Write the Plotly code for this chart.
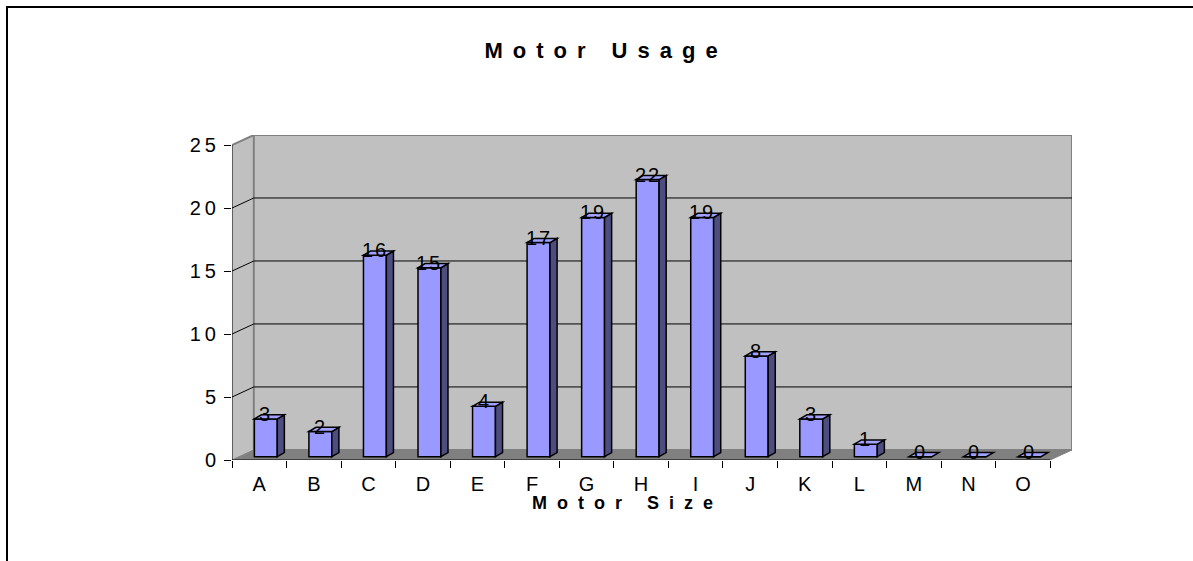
import plotly.graph_objects as go

# ---- data ----
categories = ["A", "B", "C", "D", "E", "F", "G", "H", "I", "J", "K", "L", "M", "N", "O"]
usage = [3, 2, 16, 15, 4, 17, 19, 22, 19, 8, 3, 1, 0, 0, 0]
y_ticks = [0, 5, 10, 15, 20, 25]
title_text = "Motor Usage"
x_title_text = "Motor Size"

# ---- style / geometry ----
W, H = 1193, 561
L, R, T, B = 232, 1072, 135, 460          # plot area in px
DX, DY = 0.40, 0.80                        # depth offset of back wall (data units)
BAR_OFF, BAR_W, BAR_BASE = -0.09, 0.42, 0.26
BDX, BDY = 0.13, 0.33                      # bar depth
FONT = "Liberation Sans"
FRONT, SIDE, TOP = "#9999FF", "#4D4D80", "#A3A3FF"
WALL, FLOOR, EDGE = "#C0C0C0", "#808080", "#808080"

def px_x(p):
    return (p - L) / (R - L)

def px_y(p):
    return (B - p) / (B - T)

def ls(text, spacing):
    return f'<span style="letter-spacing:{spacing}px">{text}</span>'

xmin, xmax = -0.5, len(categories) - 0.5
ymax = max(y_ticks)

shapes = []
# left side wall
shapes.append(dict(type="path", layer="below", xref="x", yref="y",
                   path=f"M{xmin},0 L{xmin+DX},{DY} L{xmin+DX},{ymax+DY} L{xmin},{ymax} Z",
                   fillcolor=WALL, line=dict(width=0)))
# back wall
shapes.append(dict(type="rect", layer="below", xref="x", yref="y",
                   x0=xmin + DX, x1=xmax + DX, y0=DY, y1=ymax + DY,
                   fillcolor=WALL, line=dict(color=EDGE, width=2)))
# floor
shapes.append(dict(type="path", layer="below", xref="x", yref="y",
                   path=f"M{xmin},0 L{xmax},0 L{xmax+DX},{DY} L{xmin+DX},{DY} Z",
                   fillcolor=FLOOR, line=dict(color=EDGE, width=1)))
# top edge of left wall
shapes.append(dict(type="line", layer="below", xref="x", yref="y",
                   x0=xmin, y0=ymax, x1=xmin + DX, y1=ymax + DY,
                   line=dict(color=EDGE, width=2)))
# gridlines
for k in y_ticks[1:-1]:
    shapes.append(dict(type="path", layer="below", xref="x", yref="y",
                       path=f"M{xmin},{k} L{xmin+DX},{k+DY} L{xmax+DX},{k+DY}",
                       line=dict(color="#000000", width=1)))
# axis lines
shapes.append(dict(type="line", layer="above", xref="x", yref="y",
                   x0=xmin, y0=0, x1=xmin, y1=ymax, line=dict(color="#000000", width=1)))
shapes.append(dict(type="line", layer="above", xref="x", yref="y",
                   x0=xmin, y0=0, x1=xmax, y1=0, line=dict(color="#000000", width=1)))

# 3D faces of bars
for i, v in enumerate(usage):
    xl = i + BAR_OFF
    xr = xl + BAR_W
    b = BAR_BASE
    t = b + v
    if v > 0:
        shapes.append(dict(type="path", layer="above", xref="x", yref="y",
                           path=f"M{xr},{b} L{xr+BDX},{b+BDY} L{xr+BDX},{t+BDY} L{xr},{t} Z",
                           fillcolor=SIDE, line=dict(color="#000000", width=1.5)))
    shapes.append(dict(type="path", layer="above", xref="x", yref="y",
                       path=f"M{xl},{t} L{xr},{t} L{xr+BDX},{t+BDY} L{xl+BDX},{t+BDY} Z",
                       fillcolor=TOP, line=dict(color="#000000", width=1.5)))

# outer chart border (top and left visible)
shapes.append(dict(type="path", xref="paper", yref="paper", layer="above",
                   path=f"M{px_x(7)},{px_y(565)} L{px_x(7)},{px_y(7)} L{px_x(1200)},{px_y(7)}",
                   line=dict(color="#000000", width=2)))

fig = go.Figure()
fig.add_trace(go.Bar(
    x=categories, y=usage, base=BAR_BASE, offset=BAR_OFF, width=BAR_W,
    marker=dict(color=FRONT, line=dict(color="#000000", width=1.5)),
    showlegend=False, hoverinfo="x+y"))

annotations = []
for i, v in enumerate(usage):
    annotations.append(dict(x=i + BAR_OFF + BAR_W / 2, y=BAR_BASE + v, xref="x", yref="y",
                            text=ls(str(v), 2), showarrow=False, yanchor="middle", yshift=5,
                            font=dict(family=FONT, size=20, color="#000000")))
annotations.append(dict(x=px_x(627), y=px_y(503), xref="paper", yref="paper",
                        text="<b>" + ls(x_title_text, 10) + "</b>", showarrow=False,
                        xanchor="center", yanchor="middle",
                        font=dict(family=FONT, size=18, color="#000000")))

fig.update_layout(
    width=W, height=H,
    margin=dict(l=L, r=W - R, t=T, b=H - B),
    paper_bgcolor="#FFFFFF", plot_bgcolor="#FFFFFF",
    title=dict(text="<b>" + ls(title_text, 10) + "</b>", x=606 / W, xanchor="center",
               y=1 - 50 / H, yanchor="middle", yref="container",
               font=dict(family=FONT, size=22, color="#000000")),
    xaxis=dict(type="category", range=[xmin, xmax + DX], tickson="boundaries",
               ticks="outside", ticklen=7, tickcolor="#000000", tickwidth=1,
               ticklabelstandoff=10,
               showgrid=False, showline=False, zeroline=False,
               tickfont=dict(family=FONT, size=20, color="#000000")),
    yaxis=dict(range=[0, ymax + DY], tickvals=y_ticks,
               ticktext=[ls(str(t), 4) for t in y_ticks],
               ticks="outside", ticklen=7, tickcolor="#000000", tickwidth=1,
               showgrid=False, showline=False, zeroline=False,
               tickfont=dict(family=FONT, size=20, color="#000000")),
    shapes=shapes, annotations=annotations,
)

fig.write_html("out.html", config={"displayModeBar": False},
               post_script="document.body.style.margin='0px';")
